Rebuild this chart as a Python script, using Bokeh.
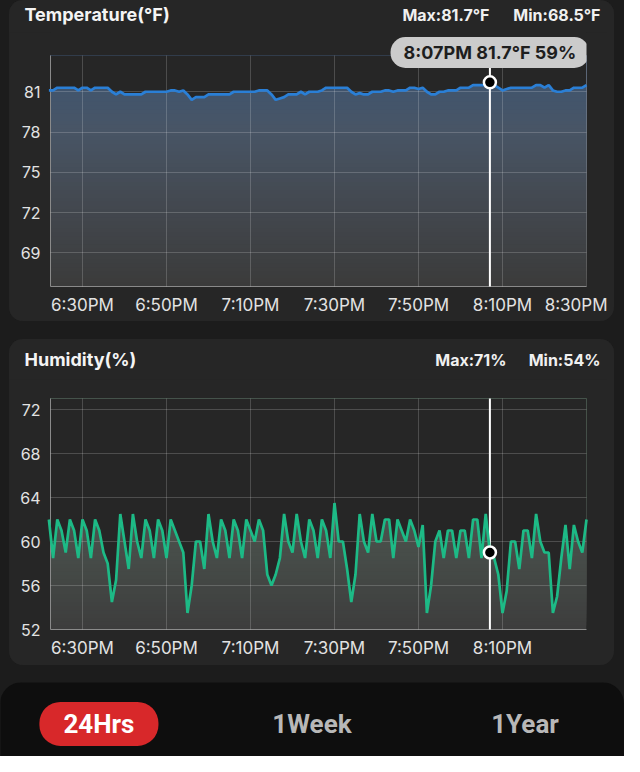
import pandas as pd
from bokeh.plotting import figure
from bokeh.layouts import column
from bokeh.models import Range1d, FixedTicker, Label, ColumnDataSource
from bokeh.embed import file_html
from bokeh.resources import INLINE

# ---------------- data ----------------
DAY = "2024-05-01"
first_sample = "18:22:00"          # one sample per minute
window_start = "18:22:23"
window_end = "20:30:00"

temp_f = [
    81.1, 81.1, 81.3, 81.3, 81.3, 81.3, 81.3, 81.1, 81.3, 81.3,
    81.1, 81.3, 81.3, 81.3, 81.3, 81.0, 80.8, 81.0, 80.8, 80.8,
    80.8, 80.8, 80.8, 81.0, 81.0, 81.0, 81.0, 81.0, 81.0, 81.1,
    81.1, 81.0, 81.1, 80.8, 80.4, 80.6, 80.6, 80.6, 80.8, 80.8,
    80.8, 80.8, 80.8, 80.8, 81.0, 81.0, 81.0, 81.0, 81.0, 81.0,
    81.1, 81.1, 81.1, 80.8, 80.4, 80.5, 80.6, 80.8, 80.8, 80.8,
    81.0, 80.8, 81.0, 81.0, 81.0, 81.1, 81.3, 81.3, 81.3, 81.3,
    81.3, 81.3, 81.0, 80.8, 80.9, 80.8, 80.8, 81.0, 81.0, 81.0,
    81.1, 81.1, 81.0, 81.1, 81.1, 81.1, 81.3, 81.3, 81.2, 81.3,
    81.0, 80.8, 80.8, 81.0, 81.0, 81.1, 81.1, 81.1, 81.3, 81.3,
    81.3, 81.5, 81.5, 81.5, 81.5, 81.7, 81.5, 81.3, 81.1, 81.2,
    81.3, 81.3, 81.3, 81.3, 81.3, 81.3, 81.5, 81.5, 81.3, 81.5,
    81.1, 81.0, 81.0, 81.1, 81.1, 81.3, 81.3, 81.3, 81.5,
]

humidity = [
    62, 58.5, 62, 61, 59, 62, 61, 58.5, 62, 61,
    58.5, 62, 61, 59, 58, 54.5, 56.5, 62.5, 60, 57.5,
    62.5, 60, 58.5, 62, 61, 58.5, 62, 61, 58.5, 62,
    61, 60, 59, 53.5, 56, 60, 60, 57.5, 62.5, 60,
    58.5, 62, 61, 58.5, 62, 61, 58.5, 62, 61, 60,
    62, 61, 57, 56, 57, 58.5, 62.5, 60, 59, 62.5,
    60, 58.5, 62, 61, 58.5, 62, 61, 58.5, 63.5, 60,
    60, 57.5, 54.5, 57, 62.5, 60, 59, 62.5, 60, 60,
    62, 62, 58.5, 62, 61, 60, 62, 61, 59.5, 61.5,
    53.5, 56, 60, 61, 58.5, 61, 61, 58.5, 61, 61,
    58.5, 62, 62, 58.5, 62.5, 59, 58.5, 57, 53.5, 55.5,
    60, 60, 57.5, 61, 61, 58.5, 62.5, 60, 59, 59,
    53.5, 55, 58.5, 61.5, 57.5, 61.5, 60, 59, 62,
]

tick_times = ["18:30", "18:50", "19:10", "19:30", "19:50", "20:10", "20:30"]
tick_labels = ["6:30PM", "6:50PM", "7:10PM", "7:30PM", "7:50PM", "8:10PM", "8:30PM"]
hum_tick_count = 6
temp_yticks = [69, 72, 75, 78, 81]
hum_yticks = [52, 56, 60, 64, 68, 72]
temp_max, temp_min = 81.7, 68.5
hum_max, hum_min = 71, 54
cursor_index = 105
periods = ["24Hrs", "1Week", "1Year"]
selected_period = "24Hrs"

# ---------------- styling ----------------
PAGE_BG = "#1c1c1c"
CARD = "#262626"
BAR_BG = "#0e0e0e"
AXIS = "#8a8a8a"
TICK_TXT = "#e2e2e2"
FONT = "Inter"

times = pd.date_range(f"{DAY} {first_sample}", periods=len(temp_f), freq="min")
x_start = pd.Timestamp(f"{DAY} {window_start}")
x_end = pd.Timestamp(f"{DAY} {window_end}")


def to_ms(ts):
    return ts.value / 1e6


tick_ms = [to_ms(pd.Timestamp(f"{DAY} {t}")) for t in tick_times]
cursor_time = times[cursor_index]


def fmt_time(t):
    h = t.hour % 12 or 12
    return f"{h}:{t.minute:02d}{'PM' if t.hour >= 12 else 'AM'}"


def hex2rgb(c):
    c = c.lstrip("#")
    return [int(c[i:i + 2], 16) for i in (0, 2, 4)]


def mix(stops, f):
    for (f0, c0), (f1, c1) in zip(stops, stops[1:]):
        if f <= f1:
            t = (f - f0) / (f1 - f0)
            a, b = hex2rgb(c0), hex2rgb(c1)
            return "#" + "".join(f"{int(round(u + (v - u) * t)):02x}" for u, v in zip(a, b))
    return stops[-1][1]


def no_align(fig):
    if "frame_align" in fig.properties():
        fig.frame_align = False


def chart(values, ymin, ymax, yticks, n_xticks, line_color, stops, extra_top_px, top_border, bottom_border):
    frame_h = 231
    y_top = ymax + (ymax - ymin) * extra_top_px / frame_h   # room for the tooltip bubble
    p = figure(x_axis_type="datetime", title=None,
               x_range=Range1d(x_start, x_end), y_range=Range1d(ymin, y_top),
               frame_width=536, frame_height=frame_h + extra_top_px,
               min_border_left=41, min_border_right=21,
               min_border_top=top_border, min_border_bottom=bottom_border,
               output_backend="svg", toolbar_location=None,
               background_fill_color=CARD, border_fill_color=CARD,
               outline_line_color=None)

    # vertical gradient under the curve: stacked bands, then mask above the curve
    n = 60
    bottoms = [ymin + (ymax - ymin) * k / n for k in range(n)]
    colors = [mix(stops, (k + 0.5) / n) for k in range(n)]
    src = ColumnDataSource(dict(left=[times[0]] * n, right=[times[-1]] * n,
                                bottom=bottoms, top=[ymax] * n, color=colors))
    p.quad(left="left", right="right", bottom="bottom", top="top",
           fill_color="color", line_color=None, source=src)
    p.varea(x=times, y1=values, y2=ymax, fill_color=CARD)

    # vertical grid lines (only over the chart area)
    xt = tick_ms[:n_xticks]
    p.segment(x0=xt, y0=[ymin] * len(xt), x1=xt, y1=[ymax] * len(xt),
              line_color="white", line_alpha=0.18, line_width=1, level="annotation")

    # cursor
    p.segment(x0=[cursor_time], y0=[ymin], x1=[cursor_time], y1=[ymax],
              line_color="white", line_width=2, level="annotation")
    p.line(times, values, line_color=line_color, line_width=2.7, level="overlay")
    p.scatter([cursor_time], [values[cursor_index]], size=12, fill_color="black",
              line_color="white", line_width=2.5, level="overlay")

    # axes
    p.yaxis.ticker = FixedTicker(ticks=yticks)
    p.yaxis.bounds = (ymin, ymax)
    p.xaxis.ticker = FixedTicker(ticks=xt)
    p.xaxis.major_label_overrides = {t: l for t, l in zip(xt, tick_labels[:n_xticks])}
    for ax in (p.xaxis, p.yaxis):
        ax.axis_line_color = AXIS
        ax.axis_line_width = 1
        ax.major_tick_line_color = None
        ax.minor_tick_line_color = None
        ax.major_tick_out = 0
        ax.major_tick_in = 0
        ax.minor_tick_out = 0
        ax.minor_tick_in = 0
        ax.major_label_text_font = FONT
        ax.major_label_text_color = TICK_TXT
    p.yaxis.major_label_text_font_size = "16px"
    p.xaxis.major_label_text_font_size = "17px"
    p.yaxis.major_label_standoff = 10
    p.xaxis.major_label_standoff = 8

    p.xgrid.visible = False
    p.ygrid.grid_line_color = "white"
    p.ygrid.grid_line_alpha = 0.18
    p.ygrid.level = "annotation"
    p.margin = (0, 7, 0, 0)
    return p


def header(h, title, title_y, max_txt, max_right, min_txt, min_right):
    hf = figure(width=605, height=h, title=None, x_range=Range1d(0, 605), y_range=Range1d(0, h),
                output_backend="svg", toolbar_location=None,
                x_axis_location=None, y_axis_location=None,
                min_border_left=0, min_border_right=0, min_border_top=0, min_border_bottom=0,
                background_fill_color=CARD, border_fill_color=CARD, outline_line_color=None)
    hf.grid.visible = False
    no_align(hf)
    common = dict(text_font=FONT, text_font_style="bold", text_baseline="middle")
    hf.add_layout(Label(x=15, y=title_y, text=title, text_font_size="18px",
                        text_color="#f4f4f4", text_align="left", **common))
    hf.add_layout(Label(x=max_right, y=title_y, text=max_txt, text_font_size="16px",
                        text_color="#f0f0f0", text_align="right", **common))
    hf.add_layout(Label(x=min_right, y=title_y, text=min_txt, text_font_size="16px",
                        text_color="#f0f0f0", text_align="right", **common))
    return hf


temp_stops = [(0.0, "#3b3b3b"), (0.35, "#43484f"), (0.68, "#485566"), (1.0, "#3c5572")]
hum_stops = [(0.0, "#3d3d3d"), (0.5, "#4c554f"), (1.0, "#56685c")]

p_temp = chart(temp_f, temp_min - 2, temp_max + 2, temp_yticks, len(tick_ms), "#2a7fd6",
               temp_stops, 23, 0, 35)
p_hum = chart(humidity, hum_min - 2, hum_max + 2, hum_yticks, hum_tick_count, "#1dba86",
              hum_stops, 0, 19, 36)

head_t = header(32, "Temperature(°F)", 18, f"Max:{temp_max}°F", 480, f"Min:{temp_min}°F", 591)
head_h = header(40, "Humidity(%)", 20, f"Max:{hum_max}%", 497, f"Min:{hum_min}%", 591)

# tooltip bubble on the temperature chart
tip = f"{fmt_time(cursor_time)} {temp_f[cursor_index]:.1f}°F {humidity[cursor_index]:.0f}%"
p_temp.add_layout(Label(x=to_ms(cursor_time), y=temp_max + 2, y_offset=3, text=tip,
                        text_font=FONT, text_font_size="18px", text_font_style="bold",
                        text_color="#1e1e1e", text_align="center", text_baseline="middle",
                        background_fill_color="#cbcbcb", border_radius=15,
                        padding=(13, 5), level="overlay"))

card_style = {"background-color": CARD, "border-radius": "14px", "overflow": "hidden"}
card_t = column(head_t, p_temp, spacing=0, styles=card_style)
card_t.margin = (0, 10, 0, 9)
card_h = column(head_h, p_hum, spacing=0, styles=card_style)
card_h.margin = (18, 10, 0, 9)

# bottom period selector
bar = figure(width=624, height=74, title=None, x_range=Range1d(-0.462, 2.467), y_range=Range1d(0, 1),
             output_backend="svg", toolbar_location=None,
             min_border_left=0, min_border_right=0, min_border_top=0, min_border_bottom=0,
             x_axis_location=None, y_axis_location=None,
             background_fill_color=BAR_BG, border_fill_color=BAR_BG, outline_line_color=None)
bar.grid.visible = False
no_align(bar)
bar.margin = (17, 0, 0, 0)
bar.styles = {"border-radius": "22px 22px 0 0", "overflow": "hidden"}
for i, name in enumerate(periods):
    sel = name == selected_period
    kw = dict(background_fill_color="#d8282a", border_radius=21, padding=(24, 7)) if sel else {}
    bar.add_layout(Label(x=i, y=0.44, text=name, text_font="Roboto", text_font_size="26px",
                         text_font_style="bold", text_color="white" if sel else "#b8b8b8",
                         text_align="center", text_baseline="middle", **kw))

layout = column(card_t, card_h, bar, spacing=0, styles={"background-color": PAGE_BG})

open("out.html", "w").write(file_html(layout, INLINE))
